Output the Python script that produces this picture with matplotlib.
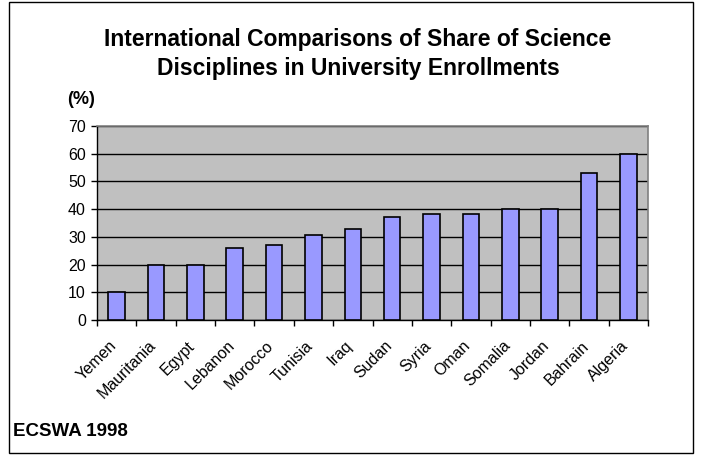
import matplotlib.pyplot as plt
from matplotlib.patches import Rectangle
from matplotlib.transforms import ScaledTranslation

countries = ['Yemen', 'Mauritania', 'Egypt', 'Lebanon', 'Morocco', 'Tunisia', 'Iraq',
             'Sudan', 'Syria', 'Oman', 'Somalia', 'Jordan', 'Bahrain', 'Algeria']
share = [10, 20, 20, 26, 27, 30.7, 33, 37.3, 38.1, 38.1, 40, 40, 53.2, 60]
y_ticks = [0, 10, 20, 30, 40, 50, 60, 70]

plt.rcParams['font.family'] = ['Liberation Sans', 'DejaVu Sans']

fig = plt.figure(figsize=(7.04, 4.55), dpi=100)
ax = fig.add_axes([97 / 704, 1 - 320 / 455, (648 - 97) / 704, (320 - 126) / 455])

x = range(len(countries))
ax.set_facecolor('#C0C0C0')
ax.bar(x, share, width=0.42, color='#9999FF', edgecolor='black', linewidth=1.2, zorder=3)

ax.set_ylim(0, 70)
ax.set_xlim(-0.5, len(countries) - 0.5)
ax.set_yticks(y_ticks)
ax.tick_params(axis='y', labelsize=11.5, length=4, direction='out', width=1, pad=4)
ax.yaxis.grid(True, color='black', linewidth=1, zorder=1)

# category ticks sit between the bars, labels under the bars
ax.set_xticks([i - 0.5 for i in range(len(countries) + 1)])
ax.set_xticklabels([])
ax.tick_params(axis='x', length=4, direction='out', width=1)
ax.set_xticks(list(x), minor=True)
labels = ax.set_xticklabels(countries, minor=True, rotation=45, ha='right',
                            rotation_mode='anchor', fontsize=11.5)
ax.tick_params(axis='x', which='minor', length=0, pad=13)
shift = ScaledTranslation(-8 / 100, 0, fig.dpi_scale_trans)
for lab in labels:
    lab.set_transform(lab.get_transform() + shift)

for side in ['top', 'right']:
    ax.spines[side].set_color('#808080')
    ax.spines[side].set_linewidth(1.2)
for side in ['left', 'bottom']:
    ax.spines[side].set_color('black')
    ax.spines[side].set_linewidth(1)

fig.text(358 / 704, 1 - 54 / 455,
         'International Comparisons of Share of Science\nDisciplines in University Enrollments',
         ha='center', va='center', fontsize=16.5, fontweight='bold', linespacing=1.35)
fig.text(67 / 704, 1 - 99 / 455, '(%)', ha='left', va='center', fontsize=13, fontweight='bold')
fig.text(13 / 704, 1 - 431 / 455, 'ECSWA 1998', ha='left', va='center', fontsize=13.5, fontweight='bold')

fig.patches.append(Rectangle((8.5 / 704, 2 / 455), 684.5 / 704, 451 / 455, transform=fig.transFigure,
                             fill=False, edgecolor='black', linewidth=1))

fig.savefig('out.png', dpi=100)
